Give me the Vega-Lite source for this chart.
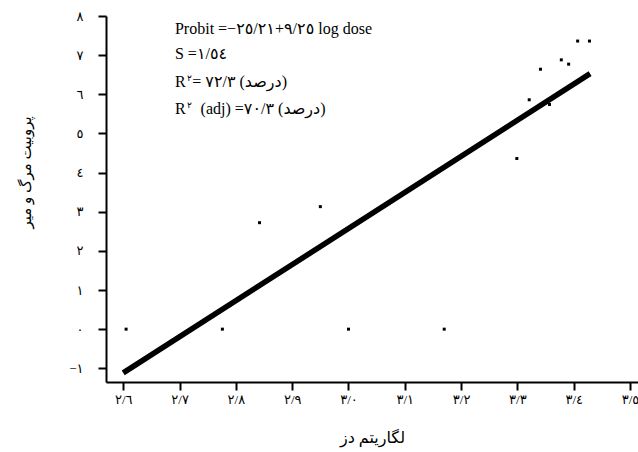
{
  "$schema": "https://vega.github.io/schema/vega-lite/v6.json",
  "width": 532,
  "height": 366,
  "autosize": {"type": "none"},
  "padding": {"left": 106, "top": 16, "right": 0, "bottom": 70},
  "background": "white",
  "config": {
    "view": {"stroke": null},
    "font": "Liberation Serif, DejaVu Sans"
  },
  "datasets": {
    "obs": [
      {"logdose": 2.605, "probit": 0},
      {"logdose": 2.776, "probit": 0},
      {"logdose": 2.842, "probit": 2.72},
      {"logdose": 2.95, "probit": 3.13},
      {"logdose": 3.0, "probit": 0},
      {"logdose": 3.17, "probit": 0},
      {"logdose": 3.299, "probit": 4.36},
      {"logdose": 3.407, "probit": 7.36},
      {"logdose": 3.428, "probit": 7.36},
      {"logdose": 3.378, "probit": 6.88},
      {"logdose": 3.391, "probit": 6.77},
      {"logdose": 3.341, "probit": 6.64},
      {"logdose": 3.321, "probit": 5.86},
      {"logdose": 3.357, "probit": 5.74}
    ],
    "fit": [
      {"logdose": 2.604, "probit": -1.08},
      {"logdose": 3.425, "probit": 6.49}
    ],
    "notes": [
      {"logdose": 2.6918, "probit": 7.533, "label": "Probit =−٢٥/٢١\u200E+\u200E٩/٢٥ log dose", "kind": "main"},
      {"logdose": 2.6918, "probit": 6.894, "label": "S =١/٥٤", "kind": "main"},
      {"logdose": 2.6918, "probit": 6.179, "label": "R", "kind": "main"},
      {"logdose": 2.7225, "probit": 6.179, "label": "= ٧٢/٣\u200E (درصد)", "kind": "main"},
      {"logdose": 2.6918, "probit": 5.49, "label": "R", "kind": "main"},
      {"logdose": 2.7373, "probit": 5.49, "label": "(adj) =٧٠/٣\u200E (درصد)", "kind": "main"},
      {"logdose": 2.7132, "probit": 6.33, "label": "٢", "kind": "sup"},
      {"logdose": 2.7132, "probit": 5.64, "label": "٢", "kind": "sup"}
    ]
  },
  "encoding": {
    "x": {
      "field": "logdose",
      "type": "quantitative",
      "scale": {"domain": [2.5693, 3.5142], "nice": false, "zero": false},
      "axis": {
        "title": "لگاریتم دز",
        "values": [2.6, 2.7, 2.8, 2.9, 3, 3.1, 3.2, 3.3, 3.4, 3.5],
        "labelExpr": "['٠','١','٢','٣','٤','٥','٦','٧','٨','٩'][floor(datum.value + 0.000001)] + '/' + ['٠','١','٢','٣','٤','٥','٦','٧','٨','٩'][round(datum.value * 10) % 10]",
        "grid": false,
        "domainColor": "black",
        "domainWidth": 2,
        "tickColor": "black",
        "tickWidth": 2,
        "tickSize": 8,
        "labelColor": "black",
        "labelFontSize": 13,
        "labelPadding": 3,
        "labelFont": "Liberation Serif, DejaVu Sans",
        "titleFont": "Liberation Serif, DejaVu Sans",
        "titleFontSize": 16,
        "titleFontWeight": "normal",
        "titleColor": "black",
        "titleBaseline": "middle",
        "titleY": 55
      }
    },
    "y": {
      "field": "probit",
      "type": "quantitative",
      "scale": {"domain": [-1.35, 8], "nice": false, "zero": false},
      "axis": {
        "title": "پروبیت مرگ و میر",
        "values": [-1, 0, 1, 2, 3, 4, 5, 6, 7, 8],
        "labelExpr": "datum.value < 0 ? '−' + ['٠','١','٢','٣','٤','٥','٦','٧','٨','٩'][-datum.value] : ['٠','١','٢','٣','٤','٥','٦','٧','٨','٩'][datum.value]",
        "grid": false,
        "domainColor": "black",
        "domainWidth": 2,
        "tickColor": "black",
        "tickWidth": 2,
        "tickSize": 8,
        "labelColor": "black",
        "labelFontSize": 13,
        "labelPadding": 15,
        "labelFont": "Liberation Serif, DejaVu Sans",
        "titleFont": "Liberation Serif, DejaVu Sans",
        "titleFontSize": 15,
        "titleFontWeight": "normal",
        "titleColor": "black",
        "titleBaseline": "middle",
        "titleX": -81,
        "titleY": 156
      }
    }
  },
  "layer": [
    {
      "data": {"name": "fit"},
      "mark": {"type": "line", "color": "black", "strokeWidth": 5.5, "strokeCap": "square"}
    },
    {
      "data": {"name": "obs"},
      "mark": {"type": "square", "size": 9, "color": "black", "filled": true, "opacity": 1}
    },
    {
      "data": {"name": "notes"},
      "transform": [{"filter": "datum.kind == 'main'"}],
      "mark": {"type": "text", "align": "left", "baseline": "alphabetic", "fontSize": 16, "font": "Liberation Serif, DejaVu Sans", "color": "black"},
      "encoding": {"text": {"field": "label"}}
    },
    {
      "data": {"name": "notes"},
      "transform": [{"filter": "datum.kind == 'sup'"}],
      "mark": {"type": "text", "align": "left", "baseline": "alphabetic", "fontSize": 9, "font": "Liberation Serif, DejaVu Sans", "color": "black"},
      "encoding": {"text": {"field": "label"}}
    }
  ]
}
